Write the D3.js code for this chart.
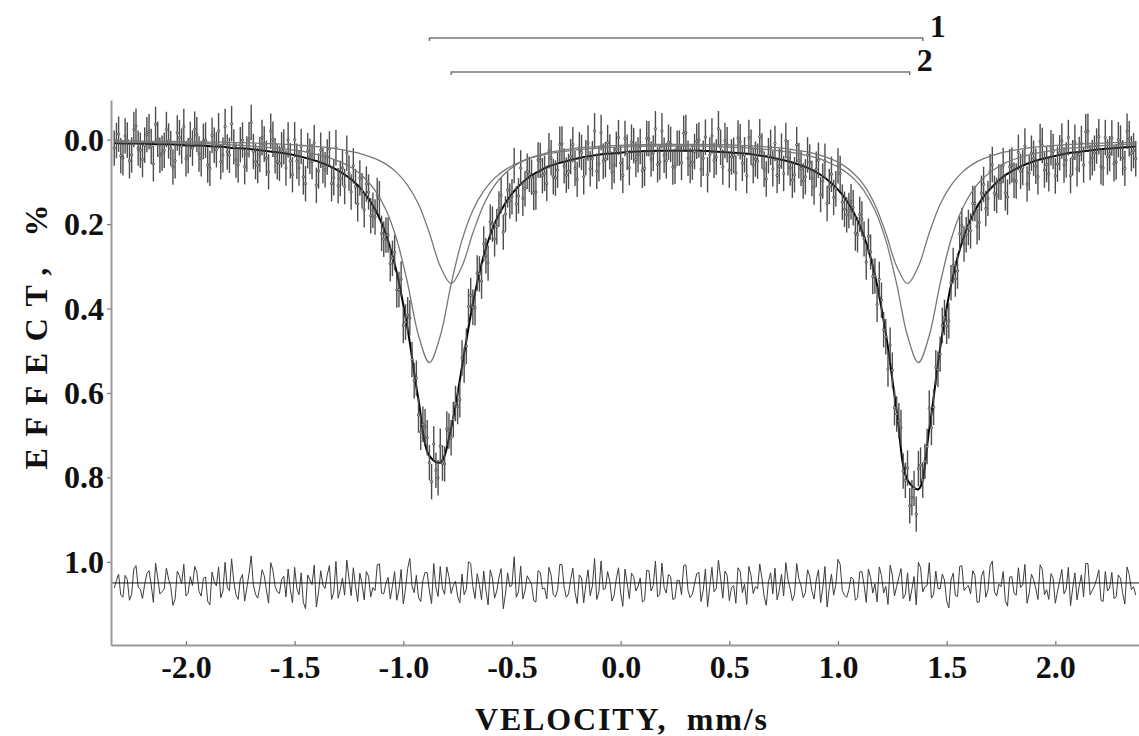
<!DOCTYPE html>
<html>
<head>
<meta charset="utf-8">
<script src="https://cdn.jsdelivr.net/npm/d3@7"></script>
<style>
  body { margin: 0; background: #fff; }
  svg text { font-family: "Liberation Serif", "Times New Roman", serif; font-weight: bold; fill: #111; }
</style>
</head>
<body>
<div id="chart"></div>
<script>
// Mossbauer spectrum: measured channels (mm/s grid) and read-off values
var channelStart = -2.33;
var channelStep = 0.01;

var effect = [
  .020,.002,-.013,.038,.043,-.009,.001,.050,.036,-.024,-.032,.020,.025,.047,.013,-.012,-.019,.016,.057,-.036,-.001,.037,.032,.025,-.024,.003,.021,.065,.050,-.016,-.005,.015,-.031,.045,.038,-.001,.020,-.025,-.012,.034,
  .045,.004,.001,.060,.068,-.010,.013,.024,-.021,.052,.036,-.031,.029,.037,-.038,.017,.048,.060,.012,.001,.064,.034,.000,-.041,.028,.052,.061,.035,-.005,.010,.044,.076,-.020,-.001,.038,.052,.056,.024,.017,.067,
  .001,.050,.083,.000,.051,.067,.016,.088,.104,.026,.039,.052,.007,.108,.074,.025,.061,.071,.041,.022,.104,.090,.019,.109,.092,.067,.111,.032,.079,.124,.062,.111,.152,.091,.121,.166,.105,.124,.180,.167,
  .183,.132,.140,.222,.236,.226,.226,.294,.281,.267,.356,.355,.330,.440,.432,.415,.422,.521,.571,.565,.652,.693,.674,.680,.706,.765,.810,.721,.783,.801,.726,.766,.768,.685,.690,.706,.663,.625,.632,.616,
  .517,.534,.489,.395,.369,.397,.398,.316,.318,.335,.247,.275,.292,.195,.200,.235,.206,.164,.132,.219,.176,.119,.145,.135,.061,.152,.133,.067,.139,.116,.075,.082,.089,.125,.124,.048,.049,.085,.080,.104,
  .026,.043,.088,.091,.072,.011,.010,.062,.084,.075,.040,.012,.068,.094,.024,.030,.088,.043,.008,.069,.045,-.021,.075,.057,-.017,.051,.047,.007,.029,.076,.061,.023,-.005,.055,.085,-.003,.030,.066,.006,.014,
  .047,.036,.016,.073,.068,-.003,-.002,.046,.032,-.026,.059,.053,-.021,.037,.050,.006,.011,.065,.063,.020,.020,.054,-.015,-.017,.044,.061,.053,.028,.004,.001,.070,.044,-.006,.083,.036,-.009,.049,.041,-.026,.018,
  .065,.002,.012,.072,.041,.037,.079,-.004,.005,.056,.036,.085,-.005,.018,.061,.046,.051,-.007,.027,.070,.093,.038,.018,.069,.009,.085,.063,.027,.080,.002,.043,.067,.096,.083,.012,.050,.068,.098,.088,.036,
  .053,.092,.112,.070,.049,.130,.098,.051,.151,.111,.082,.137,.116,.062,.080,.148,.165,.178,.168,.147,.161,.221,.225,.177,.188,.235,.290,.229,.266,.324,.323,.390,.331,.380,.450,.467,.543,.487,.546,.635,
  .650,.666,.682,.785,.807,.778,.867,.848,.826,.887,.779,.771,.806,.762,.727,.636,.682,.634,.540,.544,.508,.440,.421,.442,.429,.339,.298,.330,.311,.223,.203,.247,.225,.208,.216,.151,.151,.206,.196,.127,
  .106,.163,.139,.076,.059,.127,.132,.100,.101,.061,.126,.136,.064,.060,.096,.098,.030,.075,.066,.015,.105,.079,.032,.044,.063,.088,.004,.014,.072,.059,.081,.019,.028,.086,.058,.031,.003,.060,.048,-.005,
  .085,.043,.006,.069,.035,.009,.060,-.019,-.020,.054,.043,.032,.015,-.007,.064,.067,-.005,.041,.033,-.004,.057,.053,.000,.008,.043,.068,-.020,-.002,.033,.026,.045
];

var residual = [
  .012,-.006,-.021,.029,.034,-.018,-.008,.041,.027,-.033,-.041,.010,.015,.037,.003,-.022,-.029,.005,.046,-.047,-.012,.026,.021,.014,-.035,-.009,.009,.053,.038,-.028,-.017,.002,-.044,.031,.024,-.015,.006,-.039,-.026,.020,
  .031,-.011,-.014,.044,.052,-.026,-.003,.007,-.038,.035,.019,-.049,.011,.018,-.057,-.003,.028,.039,-.009,-.020,.043,.012,-.022,-.064,.004,.027,.036,.009,-.031,-.017,.017,.048,-.048,-.030,.008,.021,.025,-.008,-.016,.033,
  -.033,.015,.047,-.037,.013,.028,-.024,.046,.061,-.019,-.007,.004,-.042,.057,.022,-.029,.005,.013,-.019,-.041,.039,.022,-.051,.036,.016,-.012,.029,-.054,-.011,.030,-.036,.008,.044,-.023,.002,.040,-.027,-.016,.033,.011,
  .018,-.043,-.045,.024,.026,.001,-.013,.038,.008,-.027,.041,.016,-.032,.050,.014,-.034,-.058,.007,.023,-.018,.035,.044,-.006,-.025,-.024,.019,.049,-.046,.011,.032,-.039,.013,.027,-.038,-.015,.025,.006,-.004,.032,.047,
  -.021,.028,.015,-.050,-.046,.009,.037,-.022,.004,.040,-.028,.017,.052,-.031,-.011,.036,.019,-.013,-.034,.061,.026,-.024,.009,.005,-.062,.034,.021,-.040,.038,.019,-.017,-.007,.003,.042,.045,-.029,-.025,.014,.012,.038,
  -.037,-.019,.028,.033,.016,-.044,-.043,.010,.034,.026,-.008,-.035,.022,.049,-.019,-.012,.047,.003,-.031,.030,.007,-.058,.039,.021,-.052,.016,.013,-.027,-.004,.043,.029,-.009,-.036,.024,.055,-.033,.001,.037,-.023,-.015,
  .019,.008,-.012,.045,.041,-.030,-.029,.019,.006,-.052,.033,.027,-.047,.011,.024,-.020,-.015,.039,.037,-.006,-.006,.028,-.041,-.043,.018,.035,.027,.002,-.022,-.025,.044,.017,-.033,.056,.009,-.037,.021,.013,-.054,-.011,
  .036,-.028,-.018,.042,.011,.006,.048,-.036,-.027,.023,.003,.051,-.039,-.017,.025,.009,.014,-.045,-.011,.031,.053,-.003,-.024,.026,-.035,.040,.017,-.021,.031,-.048,-.008,.014,.042,.027,-.046,-.010,.007,.035,.023,-.031,
  -.016,.020,.038,-.007,-.031,.047,.012,-.039,.057,.012,-.021,.029,.004,-.056,-.044,.018,.029,.034,.016,-.014,-.009,.041,.035,-.026,-.027,.005,.046,-.033,-.013,.024,.002,.045,-.038,-.018,.024,.008,.051,-.042,-.019,.031,
  .008,-.013,-.034,.037,.027,-.024,.043,.015,-.015,.052,-.049,-.036,.021,.009,.006,-.048,.036,.027,-.028,.013,.014,-.021,-.007,.043,.059,-.007,-.023,.030,.032,-.039,-.041,.018,.011,.006,.026,-.029,-.018,.046,.045,-.016,
  -.029,.034,.017,-.041,-.052,.021,.031,.003,.009,-.027,.042,.055,-.014,-.015,.024,.029,-.036,.011,.005,-.044,.048,.024,-.021,-.008,.013,.039,-.043,-.032,.028,.016,.039,-.022,-.011,.048,.021,-.005,-.032,.026,.015,-.037,
  .054,.012,-.024,.040,.007,-.019,.033,-.046,-.046,.028,.018,.007,-.009,-.031,.041,.044,-.027,.019,.012,-.025,.037,.033,-.019,-.011,.025,.050,-.038,-.020,.016,.009,.029
];
var errorBar = 0.042;

// fitted curves, sampled every 0.05 mm/s
var fitStart = -2.33;
var fitStep = 0.05;

var doublet1 = [
  .005,.006,.006,.006,.007,.007,.008,.009,.009,.010,
  .011,.013,.014,.016,.018,.020,.023,.026,.031,.037,
  .045,.055,.069,.090,.120,.166,.237,.341,.464,.528,
  .465,.342,.238,.167,.121,.091,.071,.057,.046,.039,
  .033,.029,.026,.023,.021,.019,.018,.017,.016,.015,
  .015,.015,.015,.015,.015,.016,.017,.018,.019,.021,
  .023,.026,.029,.033,.039,.046,.057,.071,.091,.121,
  .167,.238,.342,.465,.528,.464,.341,.237,.166,.120,
  .090,.070,.055,.045,.037,.031,.027,.023,.020,.018,
  .016,.014,.013,.011,.010
];

var doublet2 = [
  .003,.003,.003,.004,.004,.004,.004,.005,.005,.006,
  .006,.007,.007,.008,.009,.010,.011,.013,.015,.017,
  .020,.024,.029,.036,.045,.058,.078,.108,.153,.221,
  .300,.341,.300,.221,.154,.108,.079,.059,.046,.037,
  .030,.026,.022,.019,.017,.015,.014,.013,.012,.012,
  .011,.011,.011,.011,.011,.012,.012,.013,.014,.015,
  .017,.019,.022,.026,.030,.037,.046,.059,.079,.108,
  .154,.221,.300,.341,.300,.221,.153,.108,.078,.058,
  .045,.036,.029,.024,.020,.017,.015,.013,.011,.010,
  .009,.008,.007,.007,.006
];

var fitTotal = [
  .008,.009,.009,.010,.011,.011,.012,.014,.014,.016,
  .017,.020,.021,.024,.027,.030,.034,.039,.046,.054,
  .065,.079,.098,.126,.165,.224,.315,.449,.617,.749,
  .765,.683,.538,.388,.275,.199,.150,.116,.092,.076,
  .063,.055,.048,.042,.038,.034,.032,.030,.028,.027,
  .026,.026,.026,.026,.026,.028,.029,.031,.033,.036,
  .040,.045,.051,.059,.069,.083,.103,.130,.170,.229,
  .321,.459,.642,.806,.828,.685,.494,.345,.244,.178,
  .135,.106,.084,.069,.057,.048,.042,.036,.031,.028,
  .025,.022,.020,.018,.016
];

var residualOffset = 1.05;

// doublet line positions marked above the plot
var doubletNames = ["1", "2"];
var doubletLines = [[-0.88, 1.39], [-0.78, 1.33]];

var xTicks = [-2.0, -1.5, -1.0, -0.5, 0.0, 0.5, 1.0, 1.5, 2.0];
var yTicks = [0.0, 0.2, 0.4, 0.6, 0.8, 1.0];

// Setup SVG
var svgWidth = 1139;
var svgHeight = 736;

var svg = d3.select("#chart")
  .append("svg")
  .attr("width", svgWidth)
  .attr("height", svgHeight);

var plotLeft = 111, plotRight = 1139, plotTop = 100, plotBottom = 645;

var x = d3.scaleLinear().domain([-2.345, 2.385]).range([plotLeft, plotRight]);
var y = d3.scaleLinear().domain([-0.094, 1.197]).range([plotTop, plotBottom]);

var points = effect.map(function(e, i) {
  return { v: channelStart + i * channelStep, e: e, r: residual[i] };
});

function fitPoints(arr) {
  return arr.map(function(val, i) { return { v: fitStart + i * fitStep, e: val }; });
}

// residual line and its zero line
svg.append("path")
  .datum(points)
  .attr("fill", "none")
  .attr("stroke", "#3c3c3c")
  .attr("stroke-width", 1)
  .attr("d", d3.line().x(d => x(d.v)).y(d => y(residualOffset + d.r)));

svg.append("line")
  .attr("x1", plotLeft).attr("x2", plotRight)
  .attr("y1", y(residualOffset)).attr("y2", y(residualOffset))
  .attr("stroke", "#111")
  .attr("stroke-width", 1);

// fitted total (under the data, as in the original)
var curveLine = d3.line().curve(d3.curveCatmullRom).x(d => x(d.v)).y(d => y(d.e));

svg.append("path")
  .datum(fitPoints(fitTotal))
  .attr("fill", "none")
  .attr("stroke", "#000")
  .attr("stroke-width", 2)
  .attr("d", curveLine);

// error bars
svg.append("g").selectAll("line")
  .data(points)
  .enter()
  .append("line")
  .attr("x1", d => x(d.v))
  .attr("x2", d => x(d.v))
  .attr("y1", d => y(d.e - errorBar))
  .attr("y2", d => y(d.e + errorBar))
  .attr("stroke", "#4d4d4d")
  .attr("stroke-width", 1.4);

// data points
svg.append("g").selectAll("circle")
  .data(points)
  .enter()
  .append("circle")
  .attr("cx", d => x(d.v))
  .attr("cy", d => y(d.e))
  .attr("r", 1.2)
  .attr("fill", "#bbb")
  .attr("stroke", "#222")
  .attr("stroke-width", 0.6);

// sub-spectra
[doublet1, doublet2].forEach(function(arr) {
  svg.append("path")
    .datum(fitPoints(arr))
    .attr("fill", "none")
    .attr("stroke", "#777")
    .attr("stroke-width", 1.3)
    .attr("d", curveLine);
});

// axes
var leftAxis = d3.axisLeft(y)
  .tickValues(yTicks)
  .tickSize(4)
  .tickSizeOuter(0)
  .tickPadding(3)
  .tickFormat(d => d.toFixed(1));

var bottomAxis = d3.axisBottom(x)
  .tickValues(xTicks)
  .tickSizeInner(-4)
  .tickSizeOuter(0)
  .tickPadding(10)
  .tickFormat(d => d.toFixed(1));

var gy = svg.append("g")
  .attr("transform", `translate(${plotLeft}, 0)`)
  .call(leftAxis);

var gx = svg.append("g")
  .attr("transform", `translate(0, ${plotBottom})`)
  .call(bottomAxis);

[gy, gx].forEach(function(g) {
  g.select(".domain").attr("stroke", "#9a9a9a").attr("stroke-width", 2);
  g.selectAll(".tick line").attr("stroke", "#777").attr("stroke-width", 1.2);
  g.selectAll(".tick text")
    .attr("fill", "#111")
    .style("font-family", '"Liberation Serif", "Times New Roman", serif')
    .style("font-weight", "bold")
    .style("font-size", "32px");
});
gy.selectAll(".tick text").attr("dy", "0.33em");

// doublet markers above the spectrum
var bracketY = [38, 72];
doubletLines.forEach(function(pair, i) {
  var x1 = x(pair[0]), x2 = x(pair[1]), yy = bracketY[i];
  svg.append("path")
    .attr("d", `M${x1},${yy + 3}V${yy}H${x2}V${yy + 3}`)
    .attr("fill", "none")
    .attr("stroke", "#777")
    .attr("stroke-width", 1.5);
  svg.append("text")
    .attr("x", x2 + 7)
    .attr("y", yy - 1)
    .style("font-size", "32px")
    .text(doubletNames[i]);
});

// axis titles
svg.append("text")
  .attr("x", 475)
  .attr("y", 730)
  .attr("textLength", 292)
  .attr("lengthAdjust", "spacing")
  .style("font-size", "32px")
  .style("white-space", "pre")
  .text("VELOCITY,  mm/s");

svg.append("text")
  .attr("transform", "translate(47, 337) rotate(-90)")
  .attr("text-anchor", "middle")
  .attr("textLength", 265)
  .attr("lengthAdjust", "spacing")
  .style("font-size", "32px")
  .text("EFFECT, %");
</script>
</body>
</html>
